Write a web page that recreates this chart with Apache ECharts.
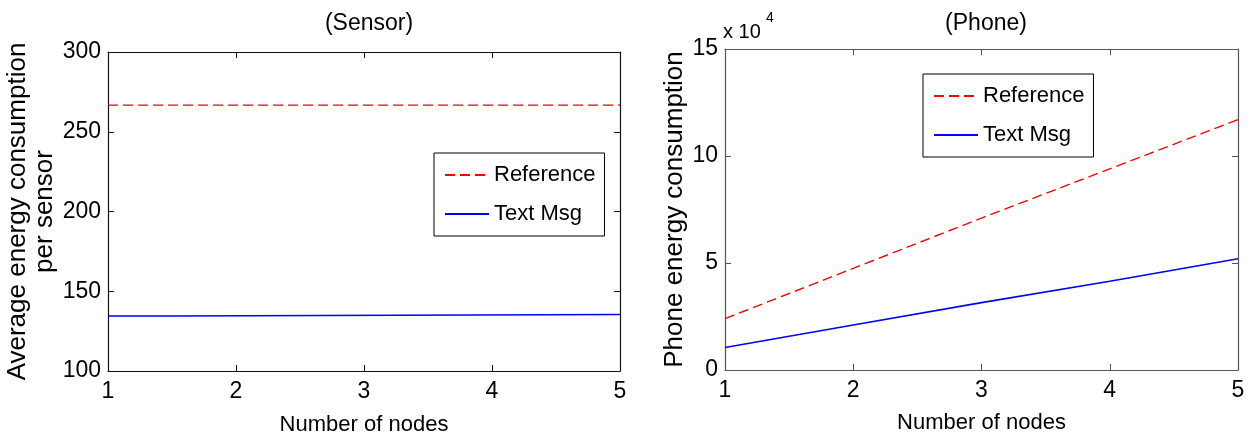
<!DOCTYPE html>
<html>
<head>
<meta charset="utf-8">
<script src="https://cdn.jsdelivr.net/npm/echarts@6/dist/echarts.min.js"></script>
<style>
html,body{margin:0;padding:0;background:#fff;}
#chart{width:1259px;height:441px;}
</style>
</head>
<body>
<div id="chart"></div>
<script>
// ---- data ----
const nodeTicks = [1, 2, 3, 4, 5];
const sensorReferenceX = [1, 2, 3, 4, 5];
const sensorReference = [266.7, 266.7, 266.7, 266.7, 266.7];
const sensorTextMsgX = [1, 1.5, 1.5, 5];
const sensorTextMsg = [134.5, 134.5, 135.4, 135.4];
const phoneNodes = [1, 2, 3, 4, 5];
const phoneReference = [24000, 47500, 71000, 94000, 117000];
const phoneTextMsg = [10500, 21000, 31500, 41500, 52000];
const sensorYTicks = [100, 150, 200, 250, 300];
const phoneYTicks = [0, 50000, 100000, 150000];
const seriesNames = ['Reference', 'Text Msg'];
const titles = ['(Sensor)', '(Phone)'];

const FONT = "'Liberation Sans', Arial, Helvetica, sans-serif";
const pairs = (xs, ys) => xs.map((x, i) => [x, ys[i]]);

function xAxes(grid, color, showLabel, pos, nameGap) {
  return {
    type: 'value', gridIndex: grid, position: pos,
    min: nodeTicks[0], max: nodeTicks[nodeTicks.length - 1], interval: 1,
    name: showLabel ? 'Number of nodes' : '', nameLocation: 'middle', nameGap: nameGap,
    nameTextStyle: { fontFamily: FONT, fontSize: 22, color: '#000' },
    axisLine: { show: true, onZero: false, lineStyle: { color: color, width: 1.2 } },
    axisTick: { show: true, inside: true, length: 6, lineStyle: { color: color } },
    axisLabel: { show: showLabel, fontFamily: FONT, fontSize: 23, color: '#000', margin: 9 },
    splitLine: { show: false }
  };
}
function yAxes(grid, color, ticks, showLabel, pos, name, nameGap, fmt) {
  return {
    type: 'value', gridIndex: grid, position: pos,
    min: ticks[0], max: ticks[ticks.length - 1], interval: ticks[1] - ticks[0],
    name: showLabel ? name : '', nameLocation: 'middle', nameGap: nameGap, nameRotate: 90,
    nameTextStyle: { fontFamily: FONT, fontSize: 26, color: '#000', lineHeight: 27 },
    axisLine: { show: true, onZero: false, lineStyle: { color: color, width: 1.2 } },
    axisTick: { show: true, inside: true, length: 6, lineStyle: { color: color } },
    axisLabel: { show: showLabel, fontFamily: FONT, fontSize: 23, color: '#000', margin: 7, formatter: fmt },
    splitLine: { show: false }
  };
}
function legendAt(left, top) {
  return {
    left: left, top: top, orient: 'vertical',
    data: seriesNames,
    itemWidth: 44, itemHeight: 20, itemGap: 17,
    padding: [11, 9, 11, 10],
    borderColor: '#000', borderWidth: 1, backgroundColor: '#fff',
    itemStyle: { opacity: 0, borderWidth: 0 },
    textStyle: { fontFamily: FONT, fontSize: 22, color: '#000' },
    selectedMode: false
  };
}
const refStyle = { color: '#ff0000', width: 1.4, type: [10, 5] };
const txtStyle = { color: '#0000ff', width: 1.6, type: 'solid' };

const option = {
  backgroundColor: '#fff',
  animation: false,
  title: [
    { text: titles[0], left: 364, top: 7, textAlign: 'center', textStyle: { fontFamily: FONT, fontSize: 23, fontWeight: 'normal', color: '#000' } },
    { text: titles[1], left: 981, top: 7, textAlign: 'center', textStyle: { fontFamily: FONT, fontSize: 23, fontWeight: 'normal', color: '#000' } }
  ],
  grid: [
    { left: 108, right: 639, top: 52, bottom: 69 },
    { left: 725, right: 21, top: 49, bottom: 71 }
  ],
  xAxis: [
    xAxes(0, '#111', true, 'bottom', 43),
    xAxes(0, '#111', false, 'top', 0),
    xAxes(1, '#555', true, 'bottom', 42),
    xAxes(1, '#555', false, 'top', 0)
  ],
  yAxis: [
    yAxes(0, '#111', sensorYTicks, true, 'left', 'Average energy consumption\nper sensor', 39),
    yAxes(0, '#111', sensorYTicks, false, 'right', '', 0),
    yAxes(1, '#555', phoneYTicks, true, 'left', 'Phone energy consumption', 36, v => String(v / 10000)),
    yAxes(1, '#555', phoneYTicks, false, 'right', '', 0)
  ],
  legend: [legendAt(434, 153), legendAt(923, 74)],
  graphic: [
    { type: 'text', left: 723, top: 22, style: { text: 'x 10', font: '20px ' + FONT, fill: '#000' } },
    { type: 'text', left: 766, top: 11, style: { text: '4', font: '14px ' + FONT, fill: '#000' } }
  ],
  series: [
    { name: seriesNames[0], type: 'line', xAxisIndex: 0, yAxisIndex: 0, symbol: 'none', lineStyle: refStyle, itemStyle: { color: '#ff0000' }, data: pairs(sensorReferenceX, sensorReference) },
    { name: seriesNames[1], type: 'line', xAxisIndex: 0, yAxisIndex: 0, symbol: 'none', lineStyle: txtStyle, itemStyle: { color: '#0000ff' }, data: pairs(sensorTextMsgX, sensorTextMsg) },
    { name: seriesNames[0], type: 'line', xAxisIndex: 2, yAxisIndex: 2, symbol: 'none', lineStyle: refStyle, itemStyle: { color: '#ff0000' }, data: pairs(phoneNodes, phoneReference) },
    { name: seriesNames[1], type: 'line', xAxisIndex: 2, yAxisIndex: 2, symbol: 'none', lineStyle: txtStyle, itemStyle: { color: '#0000ff' }, data: pairs(phoneNodes, phoneTextMsg) }
  ]
};
const chart = echarts.init(document.getElementById('chart'), null, { renderer: 'canvas' });
chart.setOption(option);
</script>
</body>
</html>
